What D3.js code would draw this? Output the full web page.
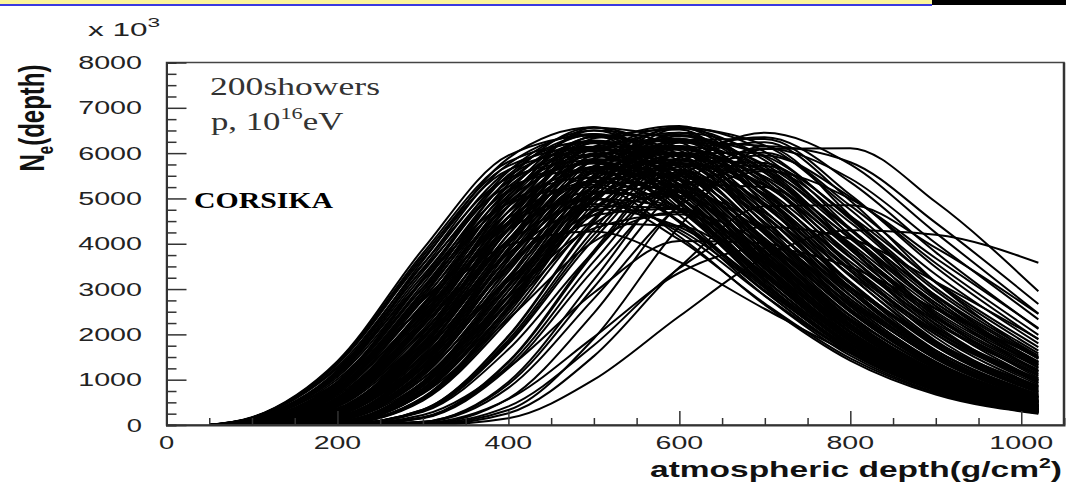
<!DOCTYPE html>
<html><head><meta charset="utf-8">
<script src="https://cdn.jsdelivr.net/npm/d3@7/dist/d3.min.js"></script>
<style>body{margin:0;background:#fff;overflow:hidden}</style>
</head><body>
<svg id="c" width="1066" height="483"></svg>
<script>
// atmospheric depth sample points (g/cm^2)
const depths = [50,100,200,300,400,500,600,700,800,900,1020];
// shower profiles N_e (x10^3) at the depths above, grouped by depth of maximum
const group475 = [
 [0,170,1410,3880,5950,6390,5060,3230,1730,820,300],
 [0,160,1380,3790,5810,6240,4950,3150,1690,800,300],
 [0,160,1360,3730,5720,6140,4870,3100,1660,790,290],
 [0,160,1340,3670,5630,6040,4790,3050,1630,770,290],
 [0,150,1290,3550,5450,5840,4630,2950,1580,750,280],
 [0,150,1250,3430,5260,5640,4470,2850,1530,720,270],
 [0,140,1160,3190,4890,5250,4160,2650,1420,670,250],
 [0,110,940,2580,3970,4270,3600,2560,1590,890,400]
];
const group487 = [
 [0,120,1210,3630,5890,6570,5400,3530,1930,930,350],
 [0,120,1180,3540,5760,6420,5270,3450,1890,910,340],
 [0,120,1150,3460,5620,6270,5150,3370,1850,890,330],
 [0,110,1130,3380,5490,6120,5030,3290,1800,860,320],
 [0,110,1100,3300,5360,5970,4910,3210,1760,840,320],
 [0,110,1060,3190,5180,5770,4740,3100,1700,810,300],
 [0,100,1010,3020,4910,5470,4500,2940,1610,770,290],
 [0,90,920,2750,4460,4980,4090,2680,1470,700,260]
];
const group500 = [
 [0,70,960,3240,5600,6500,5530,3710,2070,1000,380],
 [0,70,940,3190,5520,6400,5440,3650,2040,990,370],
 [0,70,920,3110,5390,6250,5310,3560,1990,960,360],
 [0,70,900,3040,5260,6100,5190,3480,1940,940,350],
 [0,70,870,2960,5130,5950,5060,3390,1890,920,350],
 [0,60,850,2890,5000,5800,4930,3310,1840,890,340],
 [0,60,820,2790,4830,5600,4760,3190,1780,860,320],
 [0,60,780,2640,4570,5300,4500,3020,1690,820,310],
 [0,60,740,2490,4310,5000,4250,2850,1590,770,290]
];
const group512 = [
 [0,50,790,2960,5440,6570,5810,4000,2280,1130,430],
 [0,50,770,2890,5320,6420,5680,3910,2230,1100,420],
 [0,50,760,2830,5190,6280,5540,3820,2170,1080,410],
 [0,50,740,2760,5070,6130,5410,3730,2120,1050,400],
 [0,40,710,2670,4910,5930,5240,3610,2050,1020,390],
 [0,40,680,2560,4700,5680,5020,3450,1970,970,370],
 [0,40,650,2420,4450,5380,4750,3270,1860,920,350],
 [0,40,590,2200,4040,4880,4310,2970,1690,840,320]
];
const group525 = [
 [0,30,610,2610,5150,6500,6120,4710,3120,1830,860],
 [0,30,600,2550,5040,6350,5980,4600,3050,1790,840],
 [0,30,590,2510,4960,6250,5730,4040,2340,1180,450],
 [0,30,570,2450,4840,6100,5600,3950,2290,1160,440],
 [0,20,560,2390,4720,5950,5460,3850,2230,1130,430],
 [0,20,540,2330,4600,5800,5320,3760,2180,1100,420],
 [0,20,530,2270,4490,5650,5190,3660,2120,1070,410],
 [0,20,510,2190,4330,5460,5000,3530,2050,1030,400],
 [0,20,480,2070,4090,5160,4730,3340,1930,980,370],
 [0,20,450,1920,3780,4760,4370,3080,1790,900,350]
];
const group537 = [
 [0,20,490,2350,4960,6560,6250,4550,2700,1380,540],
 [0,20,470,2280,4820,6360,6060,4420,2620,1340,520],
 [0,20,460,2230,4710,6220,5920,4310,2560,1310,510],
 [0,20,450,2180,4590,6070,5780,4210,2500,1280,500],
 [0,20,440,2110,4450,5870,5600,4080,2420,1240,480],
 [0,10,420,2040,4300,5680,5410,3940,2330,1190,460],
 [0,10,400,1930,4080,5380,5130,3740,2210,1130,440],
 [0,10,370,1790,3780,4990,4760,3470,2050,1050,410]
];
const group550 = [
 [0,10,340,2000,4590,6380,6400,5150,3530,2130,1020],
 [0,10,340,1950,4480,6230,6260,5040,3450,2080,1000],
 [0,10,330,1920,4410,6130,6160,4960,3400,2050,980],
 [0,10,320,1880,4310,5990,6010,4840,3320,2000,960],
 [0,10,310,1830,4200,5840,5780,4340,2620,1360,530],
 [0,10,310,1790,4100,5700,5630,4230,2550,1320,520],
 [0,10,300,1740,4000,5550,5490,4120,2490,1290,510],
 [0,10,290,1680,3860,5360,5300,3980,2400,1240,490],
 [0,10,280,1610,3680,5120,5060,3800,2300,1190,470],
 [0,10,260,1520,3480,4830,4780,3590,2170,1120,440],
 [0,10,240,1390,3200,4440,4390,3300,1990,1030,400]
];
const group562 = [
 [0,0,260,1750,4340,6330,6520,5030,3130,1650,650],
 [0,0,250,1700,4210,6140,6320,4880,3030,1600,630],
 [0,0,250,1640,4080,5950,6130,4730,2940,1550,610],
 [0,0,240,1610,3990,5810,5980,4620,2870,1510,600],
 [0,0,230,1550,3860,5620,5790,4470,2780,1460,580],
 [0,0,220,1490,3690,5380,5540,4280,2660,1400,560],
 [0,0,210,1410,3500,5100,5250,4060,2520,1330,530],
 [0,0,190,1280,3180,4630,4770,3680,2290,1210,480]
];
const group575 = [
 [0,0,170,1460,4000,6140,6600,5570,3960,2460,1220],
 [0,0,170,1420,3910,6000,6450,5450,3870,2410,1190],
 [0,0,170,1390,3820,5860,6300,5320,3780,2350,1160],
 [0,0,160,1360,3730,5720,6150,5200,3690,2290,1130],
 [0,0,160,1320,3640,5580,6000,5070,3600,2240,1110],
 [0,0,150,1290,3550,5450,5840,4630,2950,1580,630],
 [0,0,150,1250,3430,5260,5640,4470,2850,1530,610],
 [0,0,140,1190,3280,5030,5400,4280,2730,1460,580],
 [0,0,130,1120,3070,4710,5050,4000,2550,1370,550],
 [0,0,120,1030,2820,4340,4650,3690,2350,1260,500]
];
const group587 = [
 [0,0,120,1210,3630,5890,6570,5400,3530,1930,790],
 [0,0,120,1160,3490,5670,6320,5190,3400,1860,760],
 [0,0,110,1130,3380,5490,6120,5030,3290,1800,730],
 [0,0,110,1080,3240,5270,5870,4820,3160,1730,710],
 [0,0,100,1020,3080,5000,5570,4580,3000,1640,670],
 [0,0,100,950,2860,4640,5170,4250,2780,1520,620]
];
const group600 = [
 [0,0,70,960,3260,5650,6550,5840,4300,2760,1400],
 [0,0,70,940,3190,5520,6400,5700,4200,2690,1370],
 [0,0,70,920,3110,5390,6250,5570,4110,2630,1340],
 [0,0,70,900,3040,5260,6100,5440,4010,2570,1310],
 [0,0,70,870,2960,5130,5950,5300,3910,2500,1270],
 [0,0,60,850,2860,4960,5750,4890,3280,1830,760],
 [0,0,60,810,2740,4740,5500,4680,3140,1750,730],
 [0,0,60,760,2560,4440,5150,4380,2940,1640,680],
 [0,0,50,690,2340,4050,4700,4000,2680,1490,620]
];
const group612 = [
 [0,0,50,790,2960,5440,6570,6030,4540,2960,1530],
 [0,0,50,770,2870,5280,6370,5630,3880,2210,930],
 [0,0,50,760,2830,5190,6280,5750,4330,2830,1460],
 [0,0,50,730,2740,5030,6080,5370,3700,2100,890],
 [0,0,40,720,2690,4950,5980,5480,4130,2690,1390],
 [0,0,40,700,2600,4780,5780,5100,3510,2000,850]
];
const group625 = [
 [0,0,30,610,2630,5190,6550,6170,4750,3140,1640],
 [0,0,30,600,2590,5120,6450,5910,4170,2420,1040],
 [0,0,30,590,2530,5000,6300,5940,4570,3020,1580],
 [0,0,30,580,2470,4880,6150,5640,3980,2310,990],
 [0,0,20,560,2390,4720,5950,5610,4310,2860,1490],
 [0,0,20,540,2310,4560,5750,5280,3720,2160,930]
];
const group650 = [
 [0,0,10,340,1970,4520,6280,6310,5080,3480,1890],
 [0,0,10,340,1950,4480,6230,6160,4620,2790,1260],
 [0,0,10,320,1880,4310,5990,6010,4840,3320,1800],
 [0,0,10,310,1830,4200,5840,5780,4340,2620,1190],
 [0,0,10,310,1790,4100,5700,5720,4610,3160,1720],
 [0,0,10,290,1670,3820,5310,5250,3940,2380,1080],
 [0,0,0,220,1270,2920,4060,4010,3010,1820,820]
];
const group675 = [
 [0,0,0,170,1400,3850,5910,6350,5360,3810,2120],
 [0,0,0,160,1380,3790,5810,6240,4950,3150,1470],
 [0,0,0,160,1310,3610,5540,5950,5030,3570,1990],
 [0,0,0,150,1250,3430,5260,5640,4470,2850,1330]
];
const group700 = [
 [0,0,0,70,950,3210,5560,6450,5750,4240,2460],
 [0,0,0,70,900,3040,5260,6100,5440,4010,2330],
 [0,0,0,60,820,2790,4830,5600,4990,3680,2140],
 [0,0,0,40,570,1940,3360,3900,3480,2560,1490]
];
const group725 = [
 [0,0,0,20,580,2470,4880,6150,5800,4460,2670],
 [0,0,0,20,410,1760,3460,4370,4110,3160,1900]
];
const group750 = [
 [0,0,0,10,330,1910,4380,6090,6110,4920,2950],
 [0,0,0,0,260,1520,3480,4830,4850,3910,2450],
 [0,0,0,0,150,1000,2400,3700,4300,4200,3580]
];
const xTickValues = [0,200,400,600,800,1000];
const yTickValues = [0,1000,2000,3000,4000,5000,6000,7000,8000];

const showers = [].concat(group475,group487,group500,group512,group525,group537,
  group550,group562,group575,group587,group600,group612,group625,group650,
  group675,group700,group725,group750);

const svg = d3.select("#c");
const x = d3.scaleLinear().domain([0,1050]).range([166.5,1064]);
const y = d3.scaleLinear().domain([0,8000]).range([425,62.5]);

// top banner
svg.append("rect").attr("x",0).attr("y",0).attr("width",932).attr("height",4).attr("fill","#fbf49a");
svg.append("rect").attr("x",0).attr("y",4).attr("width",932).attr("height",2).attr("fill","#3a3ae0");
svg.append("rect").attr("x",932).attr("y",0).attr("width",134).attr("height",5).attr("fill","#000");

// curves
const line = d3.line().x((d,i)=>x(depths[i])).y(d=>y(d)).curve(d3.curveMonotoneX);
svg.append("g").selectAll("path").data(showers).join("path")
  .attr("d",line).attr("fill","none").attr("stroke","#000").attr("stroke-width",2);

// frame
svg.append("rect").attr("x",x(0)).attr("y",y(8000)).attr("width",x(1050)-x(0)).attr("height",y(0)-y(8000))
  .attr("fill","none").attr("stroke","#444").attr("stroke-width",1.5);
svg.append("line").attr("x1",x(1050)).attr("x2",x(1050)).attr("y1",y(8000)).attr("y2",y(0))
  .attr("stroke","#333").attr("stroke-width",2.5);

// axes ticks (inward)
const gx = svg.append("g").attr("transform",`translate(0,${y(0)})`);
gx.call(d3.axisBottom(x).tickValues(d3.range(0,1050,50)).tickSize(-7).tickFormat(""));
gx.call(g=>g.selectAll(".tick").filter(d=>d%200===0).select("line").attr("y2",-14));
gx.selectAll("path.domain").attr("stroke","#333").attr("stroke-width",2);
gx.selectAll("line").attr("stroke","#333").attr("stroke-width",1.5);

const gy = svg.append("g").attr("transform",`translate(${x(0)},0)`);
gy.call(d3.axisLeft(y).tickValues(d3.range(0,8001,250)).tickSize(-10).tickFormat(""));
gy.call(g=>g.selectAll(".tick").filter(d=>d%1000===0).select("line").attr("x2",20));
gy.selectAll("path.domain").attr("stroke","#333").attr("stroke-width",2);
gy.selectAll("line").attr("stroke","#333").attr("stroke-width",1.5);

// tick labels (stretched ROOT look)
const lab = "Liberation Sans, Arial, sans-serif";
svg.append("g").selectAll("text").data(yTickValues).join("text")
  .attr("x",142).attr("y",d=>y(d)+6.5).attr("text-anchor","end")
  .attr("font-family",lab).attr("font-size",17.5).attr("fill","#222")
  .attr("textLength",d=>String(d).length*16.2-1).attr("lengthAdjust","spacingAndGlyphs")
  .text(d=>d);
svg.append("g").selectAll("text").data(xTickValues).join("text")
  .attr("x",d=>x(d)).attr("y",449).attr("text-anchor","middle")
  .attr("font-family",lab).attr("font-size",17.5).attr("fill","#222")
  .attr("textLength",d=>String(d).length*16.2-1).attr("lengthAdjust","spacingAndGlyphs")
  .text(d=>d);

// x10^3 multiplier
const mult = svg.append("text").attr("transform","translate(88,36) scale(1.75,1)")
  .attr("font-family",lab).attr("font-size",18).attr("fill","#222");
mult.append("tspan").text("x 10");
mult.append("tspan").attr("dy",-9).attr("font-size",13).text("3");

// axis titles
const xt = svg.append("text").attr("x",1062).attr("y",477).attr("text-anchor","end")
  .attr("font-family",lab).attr("font-weight","bold").attr("font-size",22).attr("fill","#111")
  .attr("textLength",412).attr("lengthAdjust","spacingAndGlyphs");
xt.append("tspan").text("atmospheric depth(g/cm");
xt.append("tspan").attr("dy",-9).attr("font-size",14).text("2");
xt.append("tspan").attr("dy",9).text(")");

const yt = svg.append("text").attr("transform","translate(44,118) scale(1.45,1) rotate(-90)")
  .attr("text-anchor","middle").attr("font-family",lab).attr("font-weight","bold")
  .attr("font-size",24).attr("fill","#111");
yt.append("tspan").text("N");
yt.append("tspan").attr("dy",6).attr("font-size",15).text("e");
yt.append("tspan").attr("dy",-6).text("(depth)");

// annotations
const serif = "Liberation Serif, Times New Roman, serif";
svg.append("text").attr("x",210).attr("y",95).attr("font-family",serif).attr("font-size",25).attr("fill","#333")
  .attr("textLength",170).attr("lengthAdjust","spacingAndGlyphs").text("200showers");
const pe = svg.append("text").attr("transform","translate(211,130) scale(1.39,1)")
  .attr("font-family",serif).attr("font-size",25).attr("fill","#333");
pe.append("tspan").text("p, 10");
pe.append("tspan").attr("dy",-11).attr("font-size",16).text("16");
pe.append("tspan").attr("dy",11).text("eV");
svg.append("text").attr("x",194).attr("y",208).attr("font-family",serif).attr("font-weight","bold").attr("font-size",24).attr("fill","#000")
  .attr("textLength",139).attr("lengthAdjust","spacingAndGlyphs").text("CORSIKA");
</script>
</body></html>
